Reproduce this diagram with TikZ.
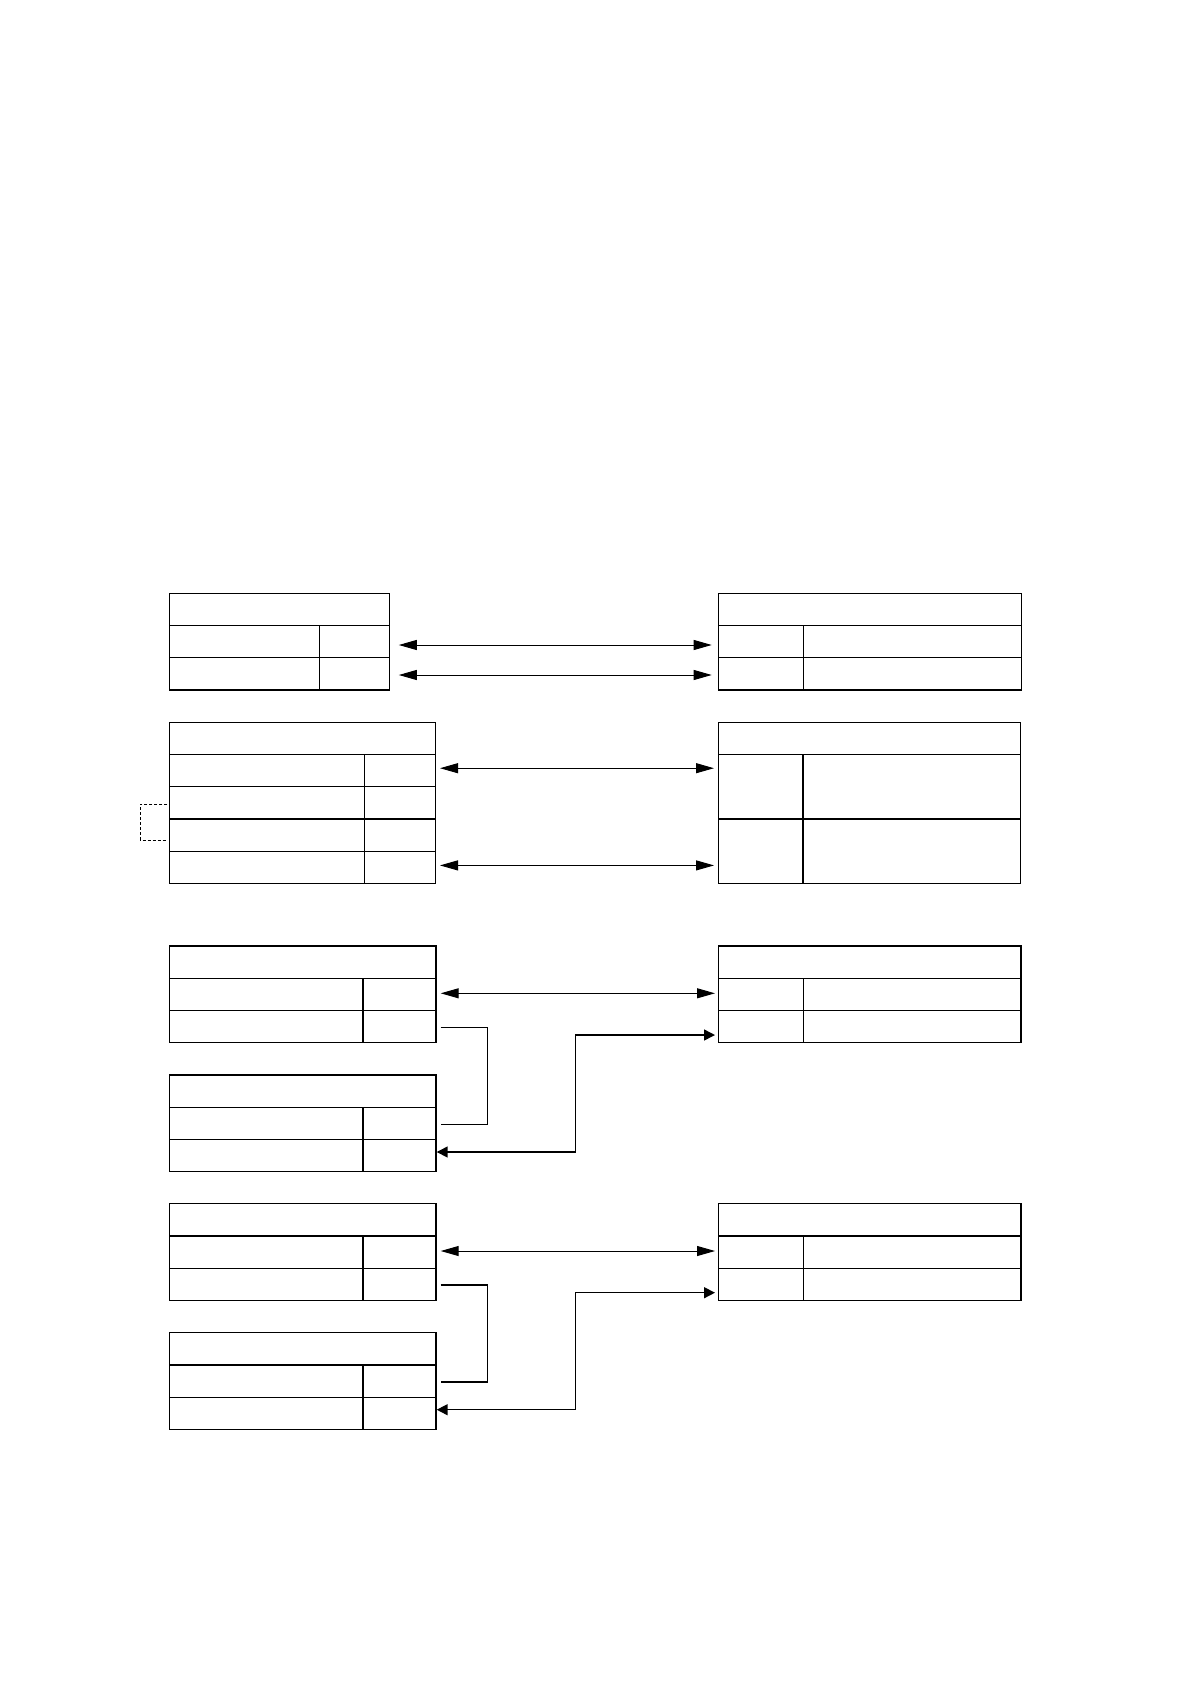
\documentclass[tikz,border=0pt]{standalone}
\usepackage{tikz}
\usetikzlibrary{positioning,arrows.meta,calc}

\begin{document}
\begin{tikzpicture}[x=1pt, y=-1pt,
  cell/.style={draw, line width=1.2pt, inner sep=0pt, outer sep=0pt, anchor=north west, minimum height=32.2pt},
  dbl/.style={{Triangle[length=18pt,width=10pt]}-{Triangle[length=18pt,width=10pt]}, line width=1pt},
  elb/.style={{Triangle[length=11pt,width=11pt]}-{Triangle[length=11pt,width=11pt]}, line width=1.5pt},
  link/.style={line width=1.3pt},
  dlink/.style={line width=1pt, dash pattern=on 3pt off 2pt}]
\useasboundingbox (0,0) rectangle (1191,1684);

% group 1
\node[cell, minimum width=220pt] (a) at (169.3,593.3) {};
\foreach \r in {1,2} {
  \node[cell, minimum width=150pt] (ak\r) at ($(a.south west)+(0,{(\r-1)*32.2})$) {};
  \node[cell, minimum width=70pt] (av\r) at (ak\r.north east) {};
}
\node[cell, minimum width=303.4pt] (b) at (718.3,593.3) {};
\foreach \r in {1,2} {
  \node[cell, minimum width=85pt] (bk\r) at ($(b.south west)+(0,{(\r-1)*32.2})$) {};
  \node[cell, minimum width=218.4pt] (bv\r) at (bk\r.north east) {};
}
\draw[dbl] ([xshift=9.5pt,yshift=-3.4pt]av1.east) -- ([xshift=-6.6pt,yshift=-3.4pt]bk1.west);
\draw[dbl] ([xshift=9.5pt,yshift=-1.2pt]av2.east) -- ([xshift=-6.6pt,yshift=-1.2pt]bk2.west);

% group 2
\node[cell, minimum width=266pt] (c) at (169.3,722.3) {};
\foreach \r in {1,...,4} {
  \node[cell, minimum width=195pt] (ck\r) at ($(c.south west)+(0,{(\r-1)*32.2})$) {};
  \node[cell, minimum width=71pt] (cv\r) at (ck\r.north east) {};
}
\node[cell, minimum width=302pt] (d) at (718.5,722.3) {};
\foreach \r in {1,2} {
  \node[cell, minimum width=84.5pt, minimum height=64.4pt] (dk\r) at ($(d.south west)+(0,{(\r-1)*64.4})$) {};
  \node[cell, minimum width=217.5pt, minimum height=64.4pt] (dv\r) at (dk\r.north east) {};
}
\coordinate (p1) at ([yshift=2.4pt]cv1.east);
\coordinate (p4) at ([yshift=1.8pt]cv4.east);
\draw[dbl] ([xshift=4.7pt]p1) -- ($(p1 -| dk1.west)+(-4.5,0)$);
\draw[dbl] ([xshift=4.7pt]p4) -- ($(p4 -| dk2.west)+(-4.5,0)$);
\draw[dlink] ([xshift=-2pt,yshift=-1.5pt]ck2.west) -- ++(-27,0) |- ([xshift=-2pt,yshift=-5pt]ck3.west);

% group 3
\node[cell, minimum width=266.3pt] (e) at (169.7,946) {};
\node[cell, minimum width=302.7pt] (f) at (718.3,946) {};
\node[cell, minimum width=266.3pt] (g) at (169.7,1075) {};
\foreach \r in {1,2} {
  \node[cell, minimum width=193.3pt] (ek\r) at ($(e.south west)+(0,{(\r-1)*32.2})$) {};
  \node[cell, minimum width=73pt] (ev\r) at (ek\r.north east) {};
  \node[cell, minimum width=85pt] (fk\r) at ($(f.south west)+(0,{(\r-1)*32.2})$) {};
  \node[cell, minimum width=217.7pt] (fv\r) at (fk\r.north east) {};
  \node[cell, minimum width=193.3pt] (gk\r) at ($(g.south west)+(0,{(\r-1)*32.2})$) {};
  \node[cell, minimum width=73pt] (gv\r) at (gk\r.north east) {};
}
\draw[dbl] ([xshift=4.7pt,yshift=1pt]ev1.east) -- ([xshift=-3.3pt,yshift=1pt]fk1.west);
\draw[link] ([xshift=4.7pt,yshift=-0.8pt]ev2.east) -- ++(47,0) |- ([xshift=4.7pt,yshift=-1pt]gv1.east);
\draw[elb] ([xshift=0.7pt,yshift=3.5pt]gv2.east) -- ++(139,0) |- ([xshift=-3.3pt,yshift=-8.5pt]fk2.west);

% group 4
\node[cell, minimum width=266.3pt] (h) at (169.7,1203.7) {};
\node[cell, minimum width=302.7pt] (i) at (718.3,1203.7) {};
\node[cell, minimum width=266.3pt] (j) at (169.7,1332.7) {};
\foreach \r in {1,2} {
  \node[cell, minimum width=193.3pt] (hk\r) at ($(h.south west)+(0,{(\r-1)*32.2})$) {};
  \node[cell, minimum width=73pt] (hv\r) at (hk\r.north east) {};
  \node[cell, minimum width=85pt] (ik\r) at ($(i.south west)+(0,{(\r-1)*32.2})$) {};
  \node[cell, minimum width=217.7pt] (iv\r) at (ik\r.north east) {};
  \node[cell, minimum width=193.3pt] (jk\r) at ($(j.south west)+(0,{(\r-1)*32.2})$) {};
  \node[cell, minimum width=73pt] (jv\r) at (jk\r.north east) {};
}
\draw[dbl] ([xshift=4.7pt,yshift=1pt]hv1.east) -- ([xshift=-3.3pt,yshift=1pt]ik1.west);
\draw[link] ([xshift=4.7pt,yshift=-0.8pt]hv2.east) -- ++(47,0) |- ([xshift=4.7pt,yshift=-1pt]jv1.east);
\draw[elb] ([xshift=0.7pt,yshift=3.5pt]jv2.east) -- ++(139,0) |- ([xshift=-3.3pt,yshift=-8.5pt]ik2.west);
\end{tikzpicture}
\end{document}
